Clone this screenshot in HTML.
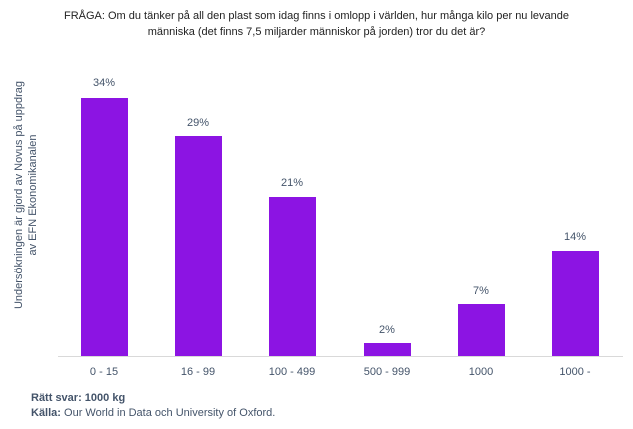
<!DOCTYPE html>
<html><head><style>
body{margin:0;width:633px;height:429px;background:#fff;font-family:"Liberation Sans",sans-serif;color:#44546A;position:relative;overflow:hidden}
.t{position:absolute;font-size:11px;white-space:nowrap}
.bar{position:absolute;background:#8C14E3;width:47px}
.c{transform:translateX(-50%)}
</style></head><body>
<div class="t" style="left:0;width:633px;text-align:center;top:8px;line-height:16px;color:#222">FRÅGA: Om du tänker på all den plast som idag finns i omlopp i världen, hur många kilo per nu levande<br>människa (det finns 7,5 miljarder människor på jorden) tror du det är?</div>
<div class="t" style="left:26px;top:195px;transform:translate(-50%,-50%) rotate(-90deg);text-align:center;line-height:14px;font-size:11px">Undersökningen är gjord av Novus på uppdrag<br>av EFN Ekonomikanalen</div>
<div style="position:absolute;left:58px;top:356px;width:565px;height:1px;background:#d9d9d9"></div>
<div class="bar" style="left:81px;top:98px;height:258px"></div>
<div class="bar" style="left:175px;top:136px;height:220px"></div>
<div class="bar" style="left:269px;top:197px;height:159px"></div>
<div class="bar" style="left:364px;top:343px;height:13px"></div>
<div class="bar" style="left:458px;top:304px;height:52px"></div>
<div class="bar" style="left:552px;top:251px;height:105px"></div>
<div class="t c" style="left:104px;top:77px">34%</div>
<div class="t c" style="left:198px;top:117px">29%</div>
<div class="t c" style="left:292px;top:177px">21%</div>
<div class="t c" style="left:387px;top:324px">2%</div>
<div class="t c" style="left:481px;top:285px">7%</div>
<div class="t c" style="left:575px;top:231px">14%</div>
<div class="t c" style="left:104px;top:366px">0 - 15</div>
<div class="t c" style="left:198px;top:366px">16 - 99</div>
<div class="t c" style="left:292px;top:366px">100 - 499</div>
<div class="t c" style="left:387px;top:366px">500 - 999</div>
<div class="t c" style="left:481px;top:366px">1000</div>
<div class="t c" style="left:575px;top:366px">1000 -</div>
<div class="t" style="left:31px;top:392px;font-weight:bold">Rätt svar: 1000 kg</div>
<div class="t" style="left:31px;top:407px"><b>Källa:</b> Our World in Data och University of Oxford.</div>
</body></html>
